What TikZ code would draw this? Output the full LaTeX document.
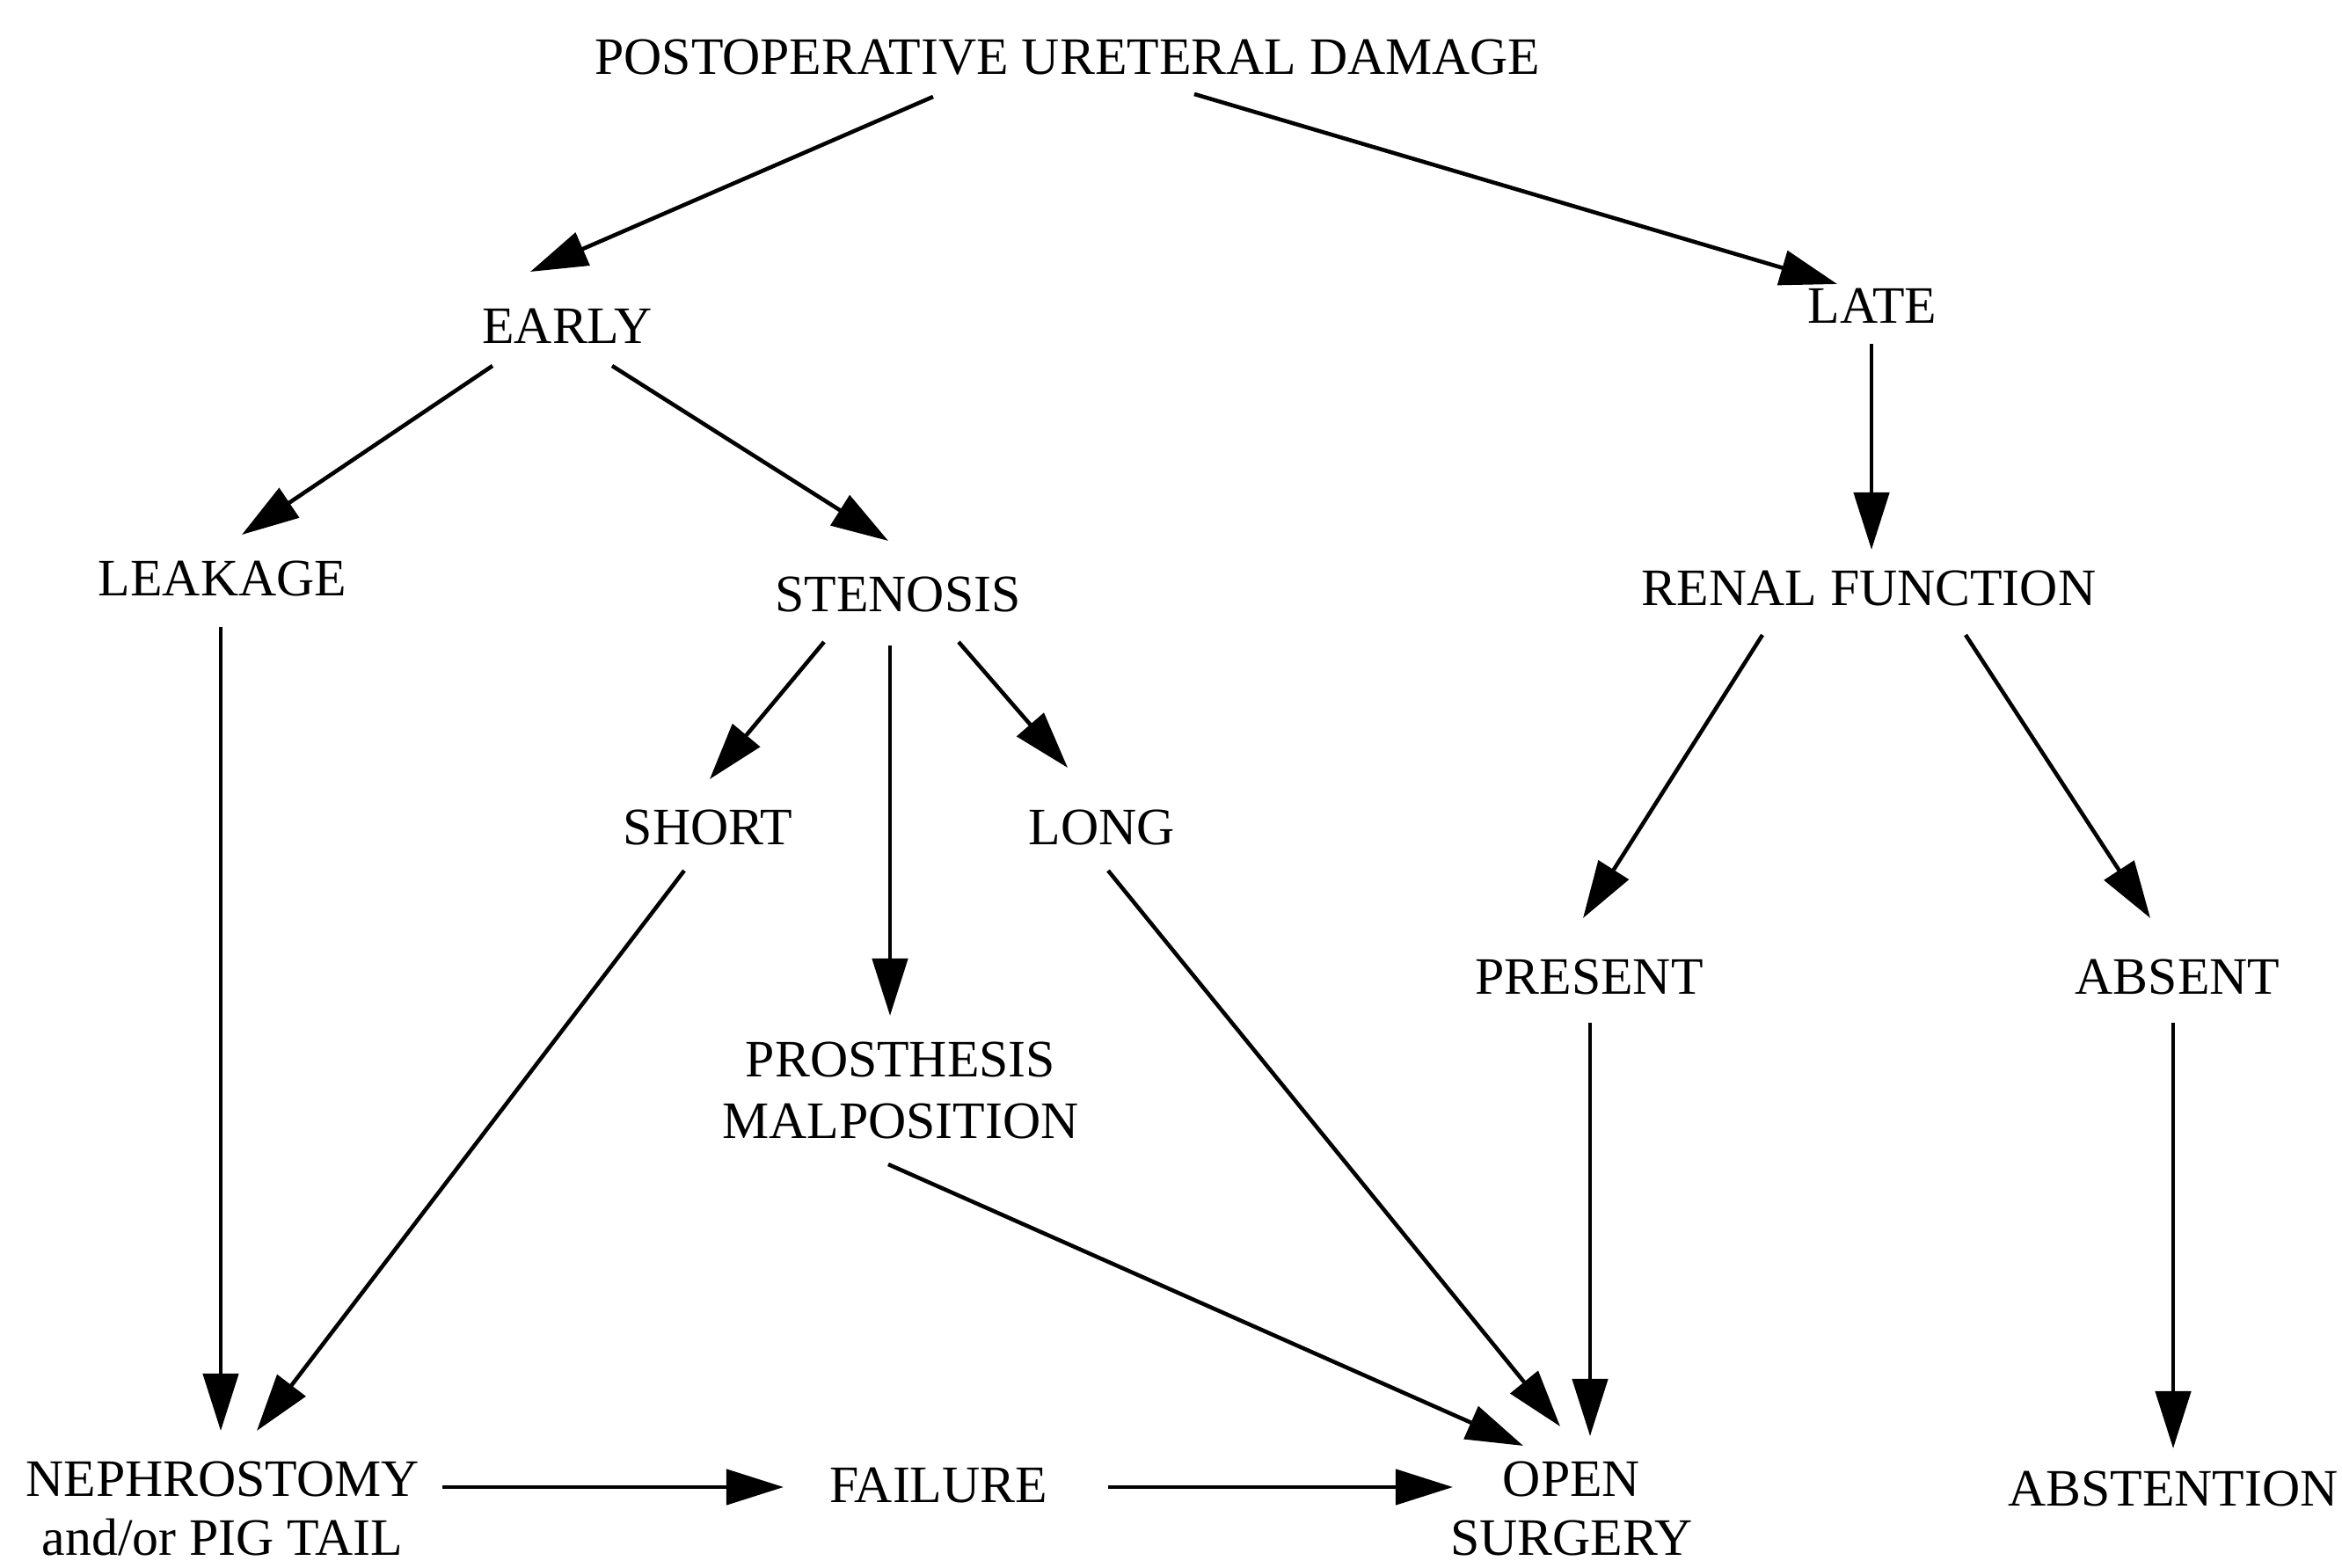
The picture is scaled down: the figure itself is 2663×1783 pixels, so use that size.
\documentclass[tikz,border=0pt]{standalone}
\usepackage{fontspec}
\setmainfont{Liberation Serif}
\usetikzlibrary{arrows.meta,calc}
\begin{document}
\begin{tikzpicture}[x=0.01cm,y=-0.01cm,
  lbl/.style={inner sep=0pt,anchor=base,font=\fontsize{17}{20}\selectfont},
  lbl2/.style={lbl,align=center},
  lbl3/.style={lbl2,font=\fontsize{17}{19}\selectfont},
  arr/.style={line width=1.3pt,-{Triangle[length=0.65cm,width=0.4cm]}}]
\useasboundingbox[fill=white] (0,0) rectangle (2663,1783);
\node[lbl] (dmg) at (1214,85) {POSTOPERATIVE URETERAL DAMAGE};
\node[lbl] (early) at (645,391) {EARLY};
\node[lbl] (late) at (2129,368) {LATE};
\node[lbl] (leak) at (253,678) {LEAKAGE};
\node[lbl] (sten) at (1021,696) {STENOSIS};
\node[lbl] (renal) at (2125,689) {RENAL FUNCTION};
\node[lbl] (short) at (805,961) {SHORT};
\node[lbl] (long) at (1253,961) {LONG};
\node[lbl] (present) at (1807,1131) {PRESENT};
\node[lbl] (absent) at (2476,1131) {ABSENT};
\node[lbl2] (pros) at (1024,1295) {PROSTHESIS\\MALPOSITION};
\node[lbl3] (neph) at (253,1768) {NEPHROSTOMY\\and/or PIG TAIL};
\node[lbl] (fail) at (1067,1708) {FAILURE};
\node[lbl3] (open) at (1787,1768) {OPEN\\SURGERY};
\node[lbl] (abst) at (2471,1712) {ABSTENTION};
\draw[arr] ($(dmg.base)+(-153,25)$) -- ($(early.base)+(-42,-82)$);
\draw[arr] ($(dmg.base)+(144,22)$) -- ($(late.base)+(-40,-45)$);
\draw[arr] ($(early.base)+(-85,25)$) -- ($(leak.base)+(22,-70)$);
\draw[arr] ($(early.base)+(51,25)$) -- ($(sten.base)+(-11,-81)$);
\draw[arr] ($(late.base)+(-1,23)$) -- ($(renal.base)+(3,-64)$);
\draw[arr] ($(leak.base)+(-2,35)$) -- ($(neph.base)+(-2,-141)$);
\draw[arr] ($(sten.base)+(-84,34)$) -- ($(short.base)+(2,-75)$);
\draw[arr] ($(sten.base)+(-9,38)$) -- ($(pros.base)+(-12,-140)$);
\draw[arr] ($(sten.base)+(69,34)$) -- ($(long.base)+(-39,-88)$);
\draw[arr] ($(short.base)+(-27,29)$) -- ($(neph.base)+(39,-141)$);
\draw[arr] ($(long.base)+(7,29)$) -- ($(open.base)+(-13,-146)$);
\draw[arr] ($(pros.base)+(-14,29)$) -- ($(open.base)+(-55,-124)$);
\draw[arr] ($(renal.base)+(-121,33)$) -- ($(present.base)+(-7,-87)$);
\draw[arr] ($(renal.base)+(110,33)$) -- ($(absent.base)+(-31,-87)$);
\draw[arr] ($(present.base)+(1,32)$) -- ($(open.base)+(21,-135)$);
\draw[arr] ($(absent.base)+(-5,32)$) -- ($(abst.base)+(0,-65)$);
\draw[arr] ($(neph.base)+(250,-77)$) -- ($(fail.base)+(-176,-17)$);
\draw[arr] ($(fail.base)+(193,-17)$) -- ($(open.base)+(-135,-77)$);
\end{tikzpicture}
\end{document}
